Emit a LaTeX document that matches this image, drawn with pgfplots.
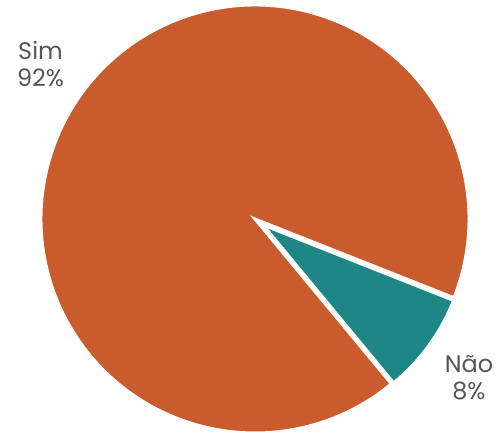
\documentclass[border=0pt]{standalone}
\usepackage{pgfplots}
\usepackage{pgfplotstable}
\pgfplotsset{compat=1.18}
\usepackage{fontspec}
\setmainfont{Poppins}
\definecolor{simc}{HTML}{C95B2C}
\definecolor{naoc}{HTML}{1F8686}
\definecolor{txt}{HTML}{555555}
\pgfplotstableread{
label value
Sim 92
Nao 8
}\piedata
\begin{document}
\begin{tikzpicture}
\path[use as bounding box] (0,0) rectangle (495bp,433bp);
\pgfplotstablegetelem{0}{value}\of\piedata \let\vsim\pgfplotsretval
\pgfplotstablegetelem{1}{value}\of\piedata \let\vnao\pgfplotsretval
\pgfmathsetmacro{\anao}{3.6*\vnao}
\pgfmathsetmacro{\asim}{3.6*\vsim}
\pgfmathsetmacro{\start}{-36-\anao/2}
\pgfmathsetmacro{\mid}{\start+\anao}
\pgfmathsetmacro{\send}{\mid+\asim}
\begin{axis}[
  at={(0,0)}, anchor=south west,
  scale only axis, width=495bp, height=433bp,
  xmin=0, xmax=495, ymin=0, ymax=433,
  hide axis, clip=false,
]
\filldraw[fill=simc, draw=white, line width=3bp]
  (axis cs:255,214) -- ++(\mid:214bp) arc[start angle=\mid, end angle=\send, radius=214bp] -- cycle;
\filldraw[fill=naoc, draw=white, line width=3bp]
  (axis cs:263,208) -- ++(\start:205bp) arc[start angle=\start, end angle=\mid, radius=205bp] -- cycle;
\node[text=txt, font=\fontsize{24}{28}\selectfont, align=center, anchor=base] at (axis cs:40.5,346) {Sim\\92\%};
\node[text=txt, font=\fontsize{24}{28}\selectfont, align=center, anchor=base] at (axis cs:469,33) {Não\\8\%};
\end{axis}
\end{tikzpicture}
\end{document}
